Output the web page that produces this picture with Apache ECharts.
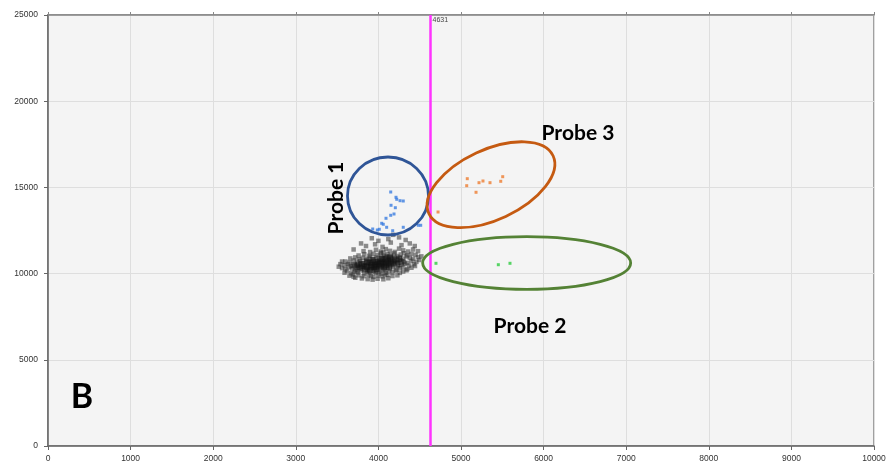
<!DOCTYPE html>
<html>
<head>
<meta charset="utf-8">
<script src="https://cdn.jsdelivr.net/npm/echarts@6/dist/echarts.min.js"></script>
<style>html,body{margin:0;padding:0;background:#fff;}#c{width:892px;height:475px;}</style>
</head>
<body>
<div id="c"></div>
<script>
// ---- data ----
const xTicks = [0,1000,2000,3000,4000,5000,6000,7000,8000,9000,10000];
const yTicks = [0,5000,10000,15000,20000,25000];
const thresholdX = 4631;

const clusterPoints = [
 [3800,9720],[3870,9680],[3930,9650],[3990,9700],[4060,9670],[4120,9730],[3720,9760],
 [3650,9880],[3700,9820],[3760,9900],[3820,9850],[3880,9930],[3940,9810],[4000,9890],[4050,9840],[4110,9920],[4170,9860],[4230,9900],[3690,9950],[3910,9870],[4080,9950],
 [3590,10050],[3620,10150],[3670,10020],[3710,10110],[3750,10060],[3790,10180],[3830,10010],[3860,10120],[3900,10070],[3940,10160],[3970,10030],[4010,10110],[4050,10190],[4090,10050],[4130,10140],[4170,10080],[4210,10170],[4260,10040],[4300,10120],[4340,10190],[3880,10190],[3960,10100],[4030,10000],[3740,10140],
 [3560,10320],[3600,10250],[3640,10380],[3680,10290],[3720,10230],[3760,10350],[3800,10270],[3830,10390],[3870,10220],[3900,10330],[3930,10260],[3960,10370],[3990,10240],[4020,10310],[4050,10390],[4080,10220],[4110,10340],[4140,10270],[4180,10370],[4220,10230],[4260,10310],[4300,10380],[4350,10260],[4400,10340],[3850,10300],[3950,10300],[4000,10360],[4070,10290],
 [3590,10480],[3630,10550],[3670,10430],[3710,10520],[3750,10460],[3780,10580],[3810,10410],[3840,10500],[3870,10570],[3900,10440],[3930,10530],[3960,10460],[3990,10590],[4020,10420],[4050,10510],[4080,10570],[4110,10450],[4140,10530],[4170,10480],[4200,10590],[4240,10430],[4280,10520],[4320,10580],[4370,10470],[4430,10550],[3880,10500],[3950,10560],[4000,10480],[4060,10440],[4120,10600],
 [3600,10700],[3650,10640],[3700,10760],[3740,10680],[3780,10730],[3820,10620],[3850,10790],[3890,10670],[3920,10740],[3950,10610],[3980,10700],[4010,10780],[4040,10650],[4070,10730],[4100,10680],[4130,10790],[4160,10620],[4190,10720],[4230,10660],[4270,10770],[4310,10690],[4350,10620],[4400,10740],[4460,10680],[3900,10720],[4000,10650],[4080,10620],[4150,10700],
 [3660,10880],[3720,10940],[3770,10830],[3810,10920],[3860,10860],[3900,10980],[3940,10840],[3970,10930],[4000,10870],[4030,10990],[4060,10820],[4090,10910],[4120,10850],[4150,10960],[4190,10890],[4230,10820],[4260,10950],[4300,10870],[4340,10990],[4380,10910],[4420,10850],[4480,10960],[4050,10900],[4200,10980],
 [3760,11050],[3830,11120],[3890,11030],[3940,11150],[3990,11080],[4030,11190],[4070,11040],[4110,11130],[4150,11070],[4190,11170],[4230,11020],[4270,11110],[4310,11180],[4350,11060],[4400,11140],[4450,11090],[4100,11000],
 [3820,11300],[3900,11250],[3970,11380],[4030,11280],[4090,11420],[4140,11320],[4200,11260],[4250,11450],[4300,11350],[4360,11280],[4420,11400],[4060,11220],
 [3850,11600],[3960,11700],[4050,11550],[4150,11800],[4280,11650],[4380,11750],[4120,12000],[4250,12100],[4000,11900],[3920,12050],[4330,11950],[4180,12250],[3790,11750],[4440,11600],[3700,11400],[4480,11300],
 [3540,10550],[3520,10400],[3560,10700],[4495,10790],[4443,10440],[4520,11000]
];
const clusterCore = [
 [3780,10350],[3820,10450],[3860,10380],[3880,10620],[3910,10400],[3920,10480],[3940,10650],[3960,10520],[3970,10410],[3990,10680],
 [4010,10550],[4030,10470],[4040,10600],[4060,10690],[4070,10380],[4090,10520],[4100,10600],[4120,10750],[4130,10410],[4150,10580],
 [4160,10820],[4180,10650],[4210,10760],[4230,10540],[3840,10250],[3900,10200],[3950,10380],[3980,10240],[4020,10640],[4040,10850],
 [3800,10560],[3760,10520],[3740,10400],[3860,10680],[3930,10800],[4090,10880],[4140,10940],[4250,10850],[4280,10680],[3700,10480]
];

const probe1Points = [
 [4149,14733],[4213,14426],[4222,14310],[4262,14229],[4301,14211],[4153,13962],[4205,13822],[4189,13457],[4149,13382],[4092,13208],
 [4040,12918],[4059,12860],[4011,12570],[3987,12529],[3931,12587],[4100,12686],[4173,12488],[4301,12686],[4483,12802],[4512,12802]
];
const probe3Points = [
 [5076,15505],[5069,15099],[5218,15273],[5266,15371],[5351,15273],[5182,14716],[5481,15354],[5505,15621],[4722,13573]
];
const probe2Points = [
 [4697,10597],[5452,10516],[5593,10597]
];

// ---- annotation layout (not data) ----
const ellipses = [
  {c:[4116,14501], rx:40.5, ry:39, rot:0, color:'#2F5597'},
  {c:[5363,15157], rx:68.5, ry:35, rot:25, color:'#C55A11'},
  {c:[5795,10615], rx:104, ry:26.3, rot:0, color:'#548235'}
];
const labels = [
  {text:'Probe 1', at:[3487,14385], rot:90, size:21},
  {text:'Probe 3', at:[6416,18155], rot:0, size:21},
  {text:'Probe 2', at:[5835,6960], rot:0, size:21},
  {text:'B', at:[412,2842], rot:0, size:34}
];

const chart = echarts.init(document.getElementById('c'));
const axisLbl = {fontSize:8.5, color:'#333', fontFamily:'Liberation Sans', formatter:v => String(v)};
chart.setOption({
  animation:false,
  grid:{left:48, right:18, top:15, bottom:29, show:true, backgroundColor:'#f4f4f4', borderColor:'#a0a0a0', borderWidth:2},
  xAxis:[{
    type:'value', min:xTicks[0], max:xTicks[xTicks.length-1], interval:xTicks[1]-xTicks[0],
    axisLine:{show:true, onZero:false, lineStyle:{color:'#666', width:1.5}},
    axisTick:{show:true, length:4, lineStyle:{color:'#666'}},
    splitLine:{show:true, lineStyle:{color:'#dedede', width:1}},
    axisLabel:Object.assign({margin:8}, axisLbl)
  },{
    type:'value', position:'top', min:xTicks[0], max:xTicks[xTicks.length-1], interval:xTicks[1]-xTicks[0],
    axisLine:{show:true, onZero:false, lineStyle:{color:'#888', width:1.5}},
    axisTick:{show:true, length:3, lineStyle:{color:'#888'}},
    splitLine:{show:false}, axisLabel:{show:false}
  }],
  yAxis:{
    type:'value', min:yTicks[0], max:yTicks[yTicks.length-1], interval:yTicks[1]-yTicks[0],
    axisLine:{show:true, onZero:false, lineStyle:{color:'#666', width:1.5}},
    axisTick:{show:true, length:4, lineStyle:{color:'#666'}},
    splitLine:{show:true, lineStyle:{color:'#dedede', width:1}},
    axisLabel:Object.assign({margin:10}, axisLbl)
  },
  series:[
    {type:'scatter', data:clusterPoints, symbol:'rect', symbolSize:4.5, itemStyle:{color:'#333', opacity:0.55}, silent:true,
     markLine:{symbol:'none', silent:true, label:{show:false}, lineStyle:{color:'#ff33ff', width:2.5, type:'solid'}, data:[{xAxis:thresholdX}]}},
    {type:'scatter', data:clusterCore, symbol:'rect', symbolSize:6, itemStyle:{color:'#111', opacity:0.5}, silent:true},
    {type:'scatter', data:probe1Points, symbol:'rect', symbolSize:3, itemStyle:{color:'#3b7de0'}},
    {type:'scatter', data:probe3Points, symbol:'rect', symbolSize:3, itemStyle:{color:'#ed7d31'}},
    {type:'scatter', data:probe2Points, symbol:'rect', symbolSize:3, itemStyle:{color:'#2ecc40'}}
  ]
});

const g = [];
ellipses.forEach(e => {
  const p = chart.convertToPixel({xAxisIndex:0, yAxisIndex:0}, e.c);
  g.push({type:'ellipse', x:p[0], y:p[1], rotation:e.rot*Math.PI/180, shape:{cx:0, cy:0, rx:e.rx, ry:e.ry},
    style:{fill:null, stroke:e.color, lineWidth:2.8}, z:10, silent:true});
});
labels.forEach(l => {
  const p = chart.convertToPixel({xAxisIndex:0, yAxisIndex:0}, l.at);
  g.push({type:'text', x:p[0], y:p[1], rotation:l.rot*Math.PI/180,
    style:{text:l.text, fontSize:l.size, fontWeight:'bold', fontFamily:'Lato', fill:'#000', align:'center', verticalAlign:'middle'}, z:11, silent:true});
});
const tp = chart.convertToPixel({xAxisIndex:0, yAxisIndex:0}, [thresholdX, yTicks[yTicks.length-1]]);
g.push({type:'text', x:tp[0]+2, y:tp[1]+2, style:{text:String(thresholdX), fontSize:7, fill:'#444', fontFamily:'Liberation Sans', align:'left', verticalAlign:'top'}, z:11, silent:true});
chart.setOption({graphic:g});
</script>
</body>
</html>
